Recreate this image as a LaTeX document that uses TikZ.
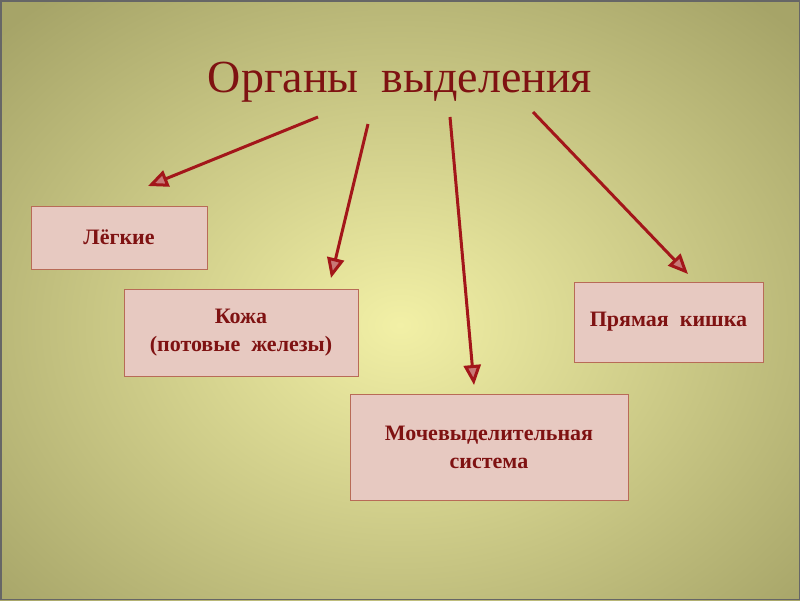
\documentclass[tikz,border=0pt]{standalone}
\usepackage{fontspec}
\setmainfont{Liberation Serif}
\usetikzlibrary{arrows.meta}
\definecolor{titlered}{HTML}{7F1212}
\definecolor{arrowred}{HTML}{A3161A}
\definecolor{boxfill}{HTML}{E7C9C1}
\definecolor{boxline}{HTML}{B86B57}
\definecolor{olive}{HTML}{A6A468}
\definecolor{paleyellow}{HTML}{F2F0A6}
\tikzset{
  organ/.style={draw=boxline, line width=1pt, fill=boxfill, align=center,
    text=titlered, font=\fontsize{22}{28}\selectfont\bfseries, inner sep=0pt},
  feed/.style={draw=arrowred, line width=3pt,
    -{Triangle[length=20pt, width=17pt, fill=arrowred!45!boxfill, line width=3pt]}}
}
\begin{document}
\begin{tikzpicture}[x=1pt, y=-1pt]
\useasboundingbox (0,0) rectangle (800,600);
\shade[inner color=paleyellow, outer color=olive] (-150,-100) rectangle (950,750);
\draw[black!60, line width=1.5pt] (0.75,0.75) rectangle (799.25,599.25);

\node[text=titlered, font=\fontsize{46}{50}\selectfont, anchor=base] (title) at (400,92) {Органы\ \ выделения};

\node[organ, minimum width=176pt, minimum height=63pt] (legkie) at (119,237.5) {Лёгкие};
\node[organ, minimum width=234pt, minimum height=87pt] (kozha) at (241,333) {Кожа\\(потовые\ \ железы)};
\node[organ, minimum width=278pt, minimum height=106pt] (mochev) at (489,447) {Мочевыделительная\\система};
\node[organ, minimum width=189pt, minimum height=80pt] (pryam) at (668.5,322) {Прямая\ \ кишка};

\coordinate (t1) at (318,117);
\coordinate (t2) at (368,124);
\coordinate (t3) at (450,117);
\coordinate (t4) at (533,112);
\coordinate (h1) at (148,186);
\coordinate (h2) at (331,278);
\coordinate (h3) at (474,385);
\coordinate (h4) at (688,274);

\draw[feed] (t1) -- (h1);
\draw[feed] (t2) -- (h2);
\draw[feed] (t3) -- (h3);
\draw[feed] (t4) -- (h4);
\end{tikzpicture}
\end{document}
